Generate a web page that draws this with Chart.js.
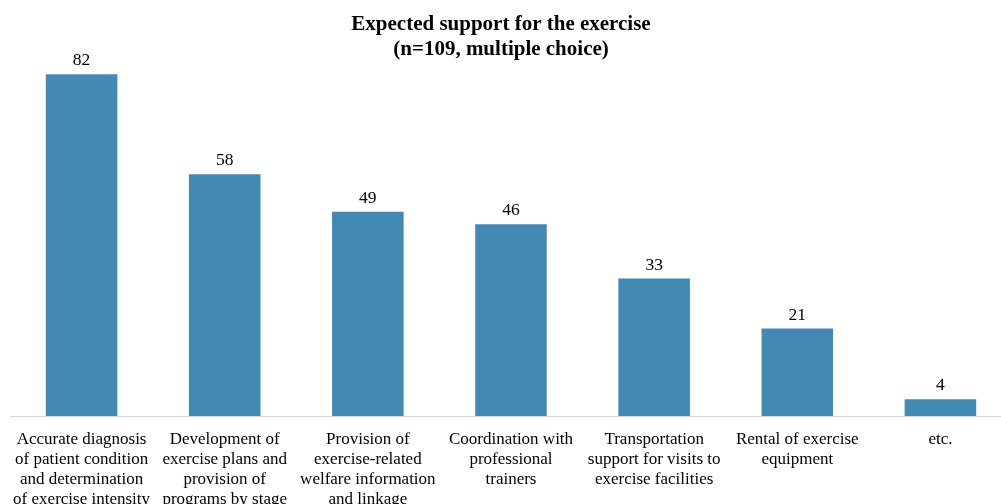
<!DOCTYPE html>
<html>
<head>
<meta charset="utf-8">
<script src="https://cdn.jsdelivr.net/npm/chart.js@4.4.1/dist/chart.umd.min.js"></script>
<style>
    html, body { margin: 0; padding: 0; background: #fff; overflow: hidden; }
    #wrap { position: relative; width: 1012px; height: 510px; }
</style>
</head>
<body>
<div id="wrap"><canvas id="chartSupport"></canvas></div>
<script>
// categories (multi-line tick labels)
const categories = [
    ['Accurate diagnosis', 'of patient condition', 'and determination', 'of exercise intensity'],
    ['Development of', 'exercise plans and', 'provision of', 'programs by stage'],
    ['Provision of', 'exercise-related', 'welfare information', 'and linkage'],
    ['Coordination with', 'professional', 'trainers'],
    ['Transportation', 'support for visits to', 'exercise facilities'],
    ['Rental of exercise', 'equipment'],
    ['etc.'],
];
const responses = [82, 58, 49, 46, 33, 21, 4];
const titleLines = ['Expected support for the exercise', '(n=109, multiple choice)'];

const SERIF = "'Liberation Serif', 'Times New Roman', serif";

// two-line title, centred on the picture (not the plot area)
const chartTitle = {
    id: 'chartTitle',
    afterDraw(chart) {
        const ctx = chart.ctx;
        ctx.save();
        ctx.font = 'bold 21px ' + SERIF;
        ctx.fillStyle = '#000';
        ctx.textAlign = 'center';
        ctx.textBaseline = 'middle';
        titleLines.forEach((line, i) => ctx.fillText(line, 501, 25 + i * 25));
        ctx.restore();
    },
};

// value labels above each bar
const barValueLabels = {
    id: 'barValueLabels',
    afterDatasetsDraw(chart) {
        const ctx = chart.ctx;
        const meta = chart.getDatasetMeta(0);
        ctx.save();
        ctx.font = '17.5px ' + SERIF;
        ctx.fillStyle = '#000';
        ctx.textAlign = 'center';
        ctx.textBaseline = 'alphabetic';
        meta.data.forEach((bar, i) => {
            ctx.fillText(String(responses[i]), bar.x, bar.y - 9);
        });
        ctx.restore();
    },
};

new Chart(document.getElementById('chartSupport').getContext('2d'), {
    type: 'bar',
    data: {
        labels: categories,
        datasets: [{
            data: responses,
            backgroundColor: '#428AB4',
            borderWidth: 0,
            categoryPercentage: 1.0,
            barPercentage: 0.5,
        }],
    },
    options: {
        responsive: true,
        maintainAspectRatio: false,
        animation: false,
        layout: { padding: { left: 10, right: 0, top: 66, bottom: 0 } },
        plugins: {
            legend: { display: false },
            tooltip: { enabled: false },
            title: { display: false },
        },
        scales: {
            x: {
                // grid hidden; tickLength only pushes labels down
                grid: { display: false, drawTicks: true, tickLength: 14 },
                border: { display: true, color: '#d9d9d9', width: 1 },
                ticks: {
                    color: '#000',
                    font: { family: SERIF, size: 17, lineHeight: '20px' },
                    padding: 0,
                    maxRotation: 0,
                    autoSkip: false,
                },
            },
            y: {
                display: false,
                min: 0,
                max: 84,
            },
        },
    },
    plugins: [barValueLabels, chartTitle],
});
</script>
</body>
</html>
